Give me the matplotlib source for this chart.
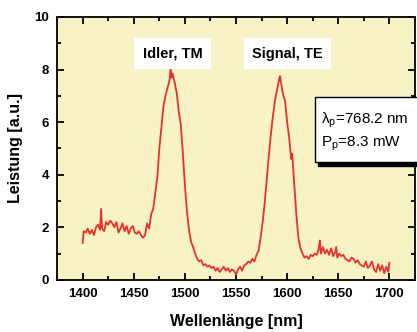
import matplotlib.pyplot as plt
from matplotlib.patches import Rectangle
from matplotlib.ticker import MultipleLocator

plt.rcParams['font.family'] = ['Liberation Sans', 'DejaVu Sans']

# Spectrum
wavelength = [1400, 1401, 1403, 1405, 1407, 1409, 1411, 1413, 1415, 1417, 1418, 1419, 1421,
              1423, 1425, 1427, 1429, 1431, 1433, 1435, 1437, 1439, 1441, 1443, 1445, 1447,
              1449, 1451, 1453, 1455, 1457, 1459, 1461, 1463, 1465, 1467, 1469, 1471, 1473,
              1475, 1477, 1479, 1481, 1483, 1485, 1486, 1487, 1488, 1490, 1492, 1494, 1496,
              1498, 1500, 1502, 1504, 1506, 1508, 1510, 1512, 1514, 1516, 1518, 1520, 1522,
              1524, 1526, 1528, 1530, 1532, 1534, 1536, 1538, 1540, 1542, 1544, 1546, 1548,
              1550, 1552, 1554, 1556, 1558, 1560, 1562, 1564, 1566, 1568, 1570, 1572, 1574,
              1576, 1578, 1580, 1582, 1584, 1586, 1588, 1590, 1592, 1593, 1594, 1596, 1598,
              1600, 1602, 1603, 1604, 1605, 1607, 1609, 1611, 1613, 1615, 1617, 1619, 1621,
              1623, 1625, 1627, 1629, 1631, 1632, 1633, 1635, 1637, 1639, 1641, 1643, 1645,
              1647, 1648, 1649, 1651, 1653, 1655, 1657, 1659, 1661, 1663, 1665, 1667, 1669,
              1671, 1673, 1675, 1677, 1679, 1681, 1683, 1685, 1687, 1689, 1691, 1693, 1695,
              1697, 1699, 1700]
power = [1.4, 1.85, 1.8, 1.95, 1.75, 1.9, 1.7, 2.0, 2.1, 1.9, 2.7, 1.95, 1.85,
         2.2, 2.1, 2.25, 2.15, 2.0, 2.2, 1.8, 1.95, 2.15, 1.85, 2.05, 1.75, 1.95,
         2.05, 1.8, 1.75, 1.85, 1.7, 1.6, 1.7, 2.15, 1.95, 2.5, 2.7, 3.3, 3.9,
         5.0, 5.8, 6.6, 7.0, 7.3, 7.6, 8.05, 7.7, 7.85, 7.5, 7.1, 6.4, 5.9,
         4.8, 3.6, 2.6, 1.9, 1.45, 1.25, 1.0, 0.8, 0.7, 0.75, 0.55, 0.6, 0.5,
         0.55, 0.45, 0.5, 0.35, 0.45, 0.3, 0.4, 0.5, 0.35, 0.45, 0.3, 0.4, 0.35,
         0.2, 0.4, 0.5, 0.35, 0.55, 0.6, 0.7, 0.65, 0.8, 0.7, 0.95, 1.1, 1.6,
         2.2, 2.9, 3.8, 4.7, 5.5, 6.2, 6.8, 7.2, 7.6, 7.75, 7.5, 7.05, 6.8,
         6.0, 5.4, 5.0, 4.6, 4.8, 3.6, 2.5, 1.6, 1.2, 1.0, 0.85, 0.9, 0.8,
         0.95, 0.9, 1.0, 0.95, 1.2, 1.5, 1.0, 1.25, 1.0, 1.15, 0.95, 1.2, 0.9,
         1.05, 1.25, 0.85, 1.0, 0.9, 0.95, 0.8, 0.75, 0.7, 0.85, 0.8, 0.65, 0.75,
         0.6, 0.55, 0.5, 0.7, 0.45, 0.55, 0.7, 0.4, 0.3, 0.6, 0.35, 0.55, 0.25,
         0.5, 0.3, 0.65]

fig = plt.figure(figsize=(4.17, 3.32), dpi=100)
ax = fig.add_axes([0.137, 0.157, 0.858, 0.792])
ax.set_facecolor('#f7f3c6')

ax.plot(wavelength, power, color='#e8302c', linewidth=1.3)

ax.set_xlim(1375, 1725)
ax.set_ylim(0, 10)
ax.xaxis.set_major_locator(MultipleLocator(50))
ax.xaxis.set_minor_locator(MultipleLocator(25))
ax.yaxis.set_major_locator(MultipleLocator(2))
ax.yaxis.set_minor_locator(MultipleLocator(1))
ax.tick_params(which='both', direction='in', top=True, right=True, width=1.3,
               labelsize=9.5, pad=6)
ax.tick_params(which='major', length=5)
ax.tick_params(which='minor', length=3)
for lab in ax.get_xticklabels() + ax.get_yticklabels():
    lab.set_fontweight('bold')
for s in ax.spines.values():
    s.set_linewidth(1.3)

ax.set_xlabel('Wellenlänge [nm]', fontsize=11.5, fontweight='bold', labelpad=10)
ax.set_ylabel('Leistung [a.u.]', fontsize=11.5, fontweight='bold', labelpad=8)

# peak labels on white boxes
box = dict(facecolor='white', edgecolor='none', pad=6)
ax.text(1488, 8.6, 'Idler, TM', ha='center', va='center', fontsize=10.5,
        fontweight='bold', bbox=box)
ax.text(1600, 8.6, 'Signal, TE', ha='center', va='center', fontsize=10.5,
        fontweight='bold', bbox=box)

# pump info box with shadow (figure coords)
x0, y0, w, h = 315 / 417, 1 - 162 / 332, 110 / 417, 65 / 332
fig.patches.append(Rectangle((x0 + 3 / 417, y0 - 4 / 332), w, h, transform=fig.transFigure,
                             facecolor='black', edgecolor='black', zorder=5))
fig.patches.append(Rectangle((x0, y0), w, h, transform=fig.transFigure,
                             facecolor='white', edgecolor='black', linewidth=1.0, zorder=6))
fig.text(x0 + 6 / 417, y0 + 42 / 65 * h, 'λ$_\\mathregular{p}$=768.2 nm', fontsize=11,
         va='center', zorder=7)
fig.text(x0 + 6 / 417, y0 + 18 / 65 * h, 'P$_\\mathregular{p}$=8.3 mW', fontsize=11,
         va='center', zorder=7)

fig.savefig('out.png', dpi=100)
